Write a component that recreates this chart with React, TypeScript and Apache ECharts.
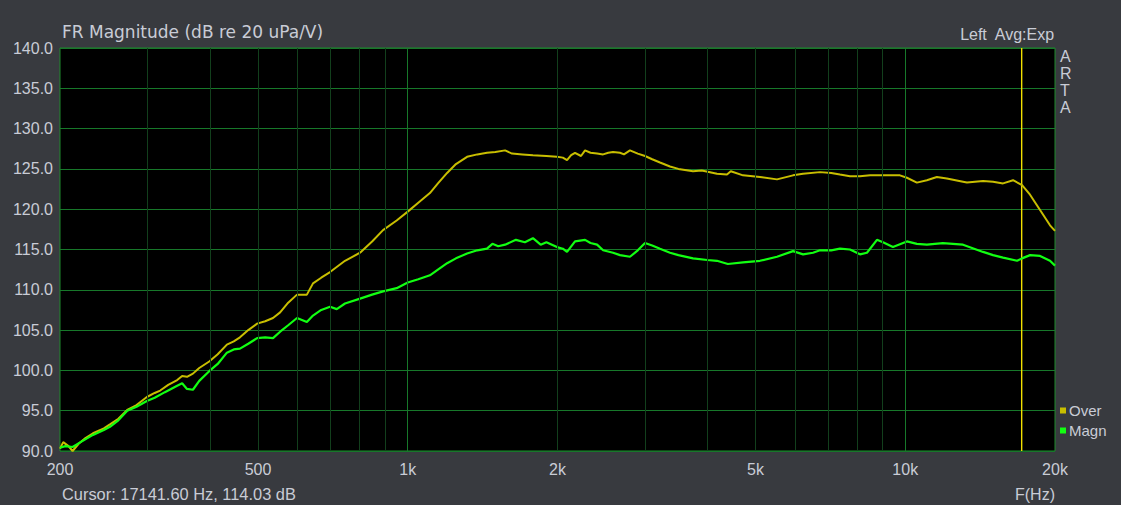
import React, { useEffect, useRef } from "react";
import * as echarts from "echarts";

const freqTicks = [200, 500, 1000, 2000, 5000, 10000, 20000];
const minorGrid = [300, 400, 500, 600, 700, 800, 900, 2000, 3000, 4000, 5000, 6000, 7000, 8000, 9000];
const majorGrid = [1000, 10000];
const cursorFreq = 17141.6;
const cursorSpan = [90, 140];

const overFreq = [200, 203, 208, 212, 218, 225, 233, 245, 252, 262, 273, 285, 299, 310, 318, 330, 344, 352, 360, 370, 381, 399, 415, 433, 447, 460, 478, 498, 517, 536, 554, 575, 599, 627, 645, 670, 698, 748, 802, 848, 892, 950, 1000, 1050, 1108, 1150, 1200, 1250, 1316, 1380, 1443, 1500, 1569, 1620, 1700, 1785, 1900, 1995, 2050, 2090, 2130, 2169, 2230, 2272, 2330, 2402, 2470, 2530, 2586, 2671, 2720, 2797, 2900, 2999, 3100, 3214, 3366, 3500, 3745, 3900, 4184, 4382, 4460, 4720, 5105, 5524, 5949, 6231, 6741, 7100, 7393, 7743, 8110, 8500, 9021, 9758, 10077, 10554, 11053, 11576, 12124, 13065, 13307, 14336, 15015, 15726, 16471, 17172, 17818, 18663, 19544, 20000];
const overDb = [90.3, 91.1, 90.6, 90.0, 90.9, 91.6, 92.2, 92.8, 93.3, 94.0, 95.1, 95.7, 96.7, 97.2, 97.5, 98.2, 98.8, 99.3, 99.2, 99.6, 100.3, 101.1, 102.0, 103.2, 103.6, 104.1, 105.0, 105.8, 106.1, 106.5, 107.2, 108.4, 109.4, 109.4, 110.8, 111.5, 112.2, 113.6, 114.6, 116.0, 117.4, 118.6, 119.7, 120.8, 122.0, 123.2, 124.5, 125.6, 126.5, 126.8, 127.0, 127.1, 127.3, 126.9, 126.8, 126.7, 126.6, 126.5, 126.4, 126.1, 126.7, 127.0, 126.6, 127.3, 127.0, 126.9, 126.8, 127.0, 127.1, 127.0, 126.8, 127.3, 126.9, 126.6, 126.2, 125.8, 125.3, 125.0, 124.7, 124.8, 124.4, 124.3, 124.7, 124.2, 124.0, 123.7, 124.2, 124.4, 124.6, 124.5, 124.3, 124.1, 124.1, 124.2, 124.2, 124.2, 123.9, 123.3, 123.6, 124.0, 123.8, 123.4, 123.3, 123.5, 123.4, 123.2, 123.6, 123.0, 121.8, 119.9, 118.0, 117.3];

const magnFreq = [200, 205, 212, 220, 233, 245, 252, 262, 273, 285, 299, 310, 325, 344, 352, 360, 370, 381, 399, 415, 433, 447, 460, 478, 498, 517, 536, 554, 575, 599, 627, 645, 670, 698, 720, 748, 802, 848, 892, 950, 1000, 1050, 1108, 1150, 1200, 1250, 1316, 1380, 1443, 1480, 1520, 1569, 1650, 1720, 1785, 1850, 1900, 1995, 2050, 2090, 2169, 2272, 2330, 2402, 2470, 2586, 2671, 2797, 2900, 2999, 3100, 3214, 3366, 3500, 3745, 4000, 4184, 4400, 4720, 5105, 5524, 5949, 6231, 6526, 6741, 7100, 7393, 7743, 8110, 8377, 8773, 9021, 9448, 10077, 10554, 11053, 11903, 13065, 14336, 15015, 15726, 16778, 17172, 17818, 18663, 19544, 20000];
const magnDb = [90.4, 90.6, 90.5, 91.1, 92.0, 92.6, 93.0, 93.8, 95.0, 95.5, 96.2, 96.6, 97.3, 98.1, 98.4, 97.7, 97.6, 98.7, 99.9, 100.8, 102.2, 102.6, 102.7, 103.3, 104.0, 104.1, 104.0, 104.8, 105.6, 106.5, 106.0, 106.8, 107.5, 107.9, 107.6, 108.3, 108.9, 109.4, 109.8, 110.2, 110.9, 111.3, 111.8, 112.5, 113.3, 113.9, 114.5, 114.9, 115.1, 115.7, 115.4, 115.6, 116.2, 115.9, 116.4, 115.6, 115.9, 115.3, 115.1, 114.7, 116.0, 116.2, 115.8, 115.6, 114.9, 114.6, 114.3, 114.1, 114.9, 115.8, 115.5, 115.1, 114.6, 114.3, 113.9, 113.7, 113.6, 113.2, 113.4, 113.6, 114.1, 114.8, 114.4, 114.6, 114.9, 114.9, 115.1, 115.0, 114.4, 114.6, 116.2, 115.9, 115.3, 116.0, 115.7, 115.6, 115.8, 115.6, 114.7, 114.3, 114.0, 113.6, 113.9, 114.3, 114.2, 113.6, 113.0];

const FONT = "'Liberation Sans', Arial, sans-serif";
const TXT = "#c9ccd6";

export default function App() {
  const ref = useRef<HTMLDivElement>(null);
  useEffect(() => {
    const chart = echarts.init(ref.current!, null, { renderer: "svg" });
    const overData = overFreq.map((f, i) => [f, overDb[i]]);
    const magnData = magnFreq.map((f, i) => [f, magnDb[i]]);
    const cursorData = cursorSpan.map((v) => [cursorFreq, v]);
    chart.setOption({
      animation: false,
      backgroundColor: "#383a3f",
      textStyle: { fontFamily: FONT },
      grid: {
        left: 60,
        top: 48,
        right: 66,
        bottom: 54,
        show: true,
        backgroundColor: "#000000",
        borderColor: "#1f8a2c",
        borderWidth: 1,
      },
      legend: {
        data: ["Over", "Magn"],
        orient: "vertical",
        left: 1060,
        top: 403,
        icon: "rect",
        itemWidth: 6,
        itemHeight: 6,
        itemGap: 5,
        padding: 0,
        textStyle: { color: TXT, fontSize: 15, fontFamily: FONT, padding: [0, 0, 0, -2] },
      },
      xAxis: {
        type: "log",
        logBase: 10,
        min: 200,
        max: 20000,
        axisLine: { show: false },
        axisTick: { show: false },
        splitLine: { show: false },
        axisLabel: {
          customValues: freqTicks,
          color: TXT,
          fontSize: 16,
          fontFamily: FONT,
          margin: 10,
          formatter: (v: number) => (v >= 1000 ? Math.round(v / 1000) + "k" : String(Math.round(v))),
        },
      },
      yAxis: {
        type: "value",
        min: 90,
        max: 140,
        interval: 5,
        axisLine: { show: false },
        axisTick: { show: false },
        splitLine: { show: true, lineStyle: { color: "#17782a", width: 1 } },
        axisLabel: {
          color: TXT,
          fontSize: 16,
          fontFamily: FONT,
          margin: 7,
          formatter: (v: number) => v.toFixed(1),
        },
      },
      graphic: [
        { type: "text", left: 62, top: 23, style: { text: "FR Magnitude (dB re 20 uPa/V)", fill: TXT, fontSize: 17, fontFamily: "'DejaVu Sans', sans-serif" } },
        { type: "text", right: 66, top: 26, style: { text: "Left  Avg:Exp", fill: TXT, fontSize: 16, fontFamily: FONT } },
        { type: "text", left: 1060, top: 48, style: { text: "A\nR\nT\nA", fill: TXT, fontSize: 16, lineHeight: 17, fontFamily: FONT } },
        { type: "text", left: 62, top: 486, style: { text: "Cursor: 17141.60 Hz, 114.03 dB", fill: TXT, fontSize: 16.4, fontFamily: FONT } },
        { type: "text", right: 66, top: 486, style: { text: "F(Hz)", fill: TXT, fontSize: 16, fontFamily: FONT } },
      ],
      series: [
        {
          type: "line",
          name: "grid",
          data: [],
          z: 1,
          silent: true,
          markLine: {
            silent: true,
            symbol: "none",
            label: { show: false },
            animation: false,
            data: [
              ...minorGrid.map((f) => ({ xAxis: f, lineStyle: { color: "#123f1c", width: 1, type: "solid" } })),
              ...majorGrid.map((f) => ({ xAxis: f, lineStyle: { color: "#17782a", width: 1, type: "solid" } })),
            ],
          },
        },
        {
          type: "line",
          name: "cursor",
          data: cursorData,
          z: 2,
          silent: true,
          showSymbol: false,
          symbol: "none",
          lineStyle: { color: "#f2e000", width: 1.4 },
          itemStyle: { color: "#f2e000" },
        },
        {
          type: "line",
          name: "Over",
          data: overData,
          z: 3,
          showSymbol: false,
          symbol: "none",
          lineStyle: { color: "#c8be00", width: 2 },
          itemStyle: { color: "#c8be00" },
        },
        {
          type: "line",
          name: "Magn",
          data: magnData,
          z: 4,
          showSymbol: false,
          symbol: "none",
          lineStyle: { color: "#12ff12", width: 2.2 },
          itemStyle: { color: "#12ff12" },
        },
      ],
    });
    return () => chart.dispose();
  }, []);
  return <div ref={ref} style={{ position: "fixed", left: 0, top: 0, width: 1121, height: 505 }} />;
}
